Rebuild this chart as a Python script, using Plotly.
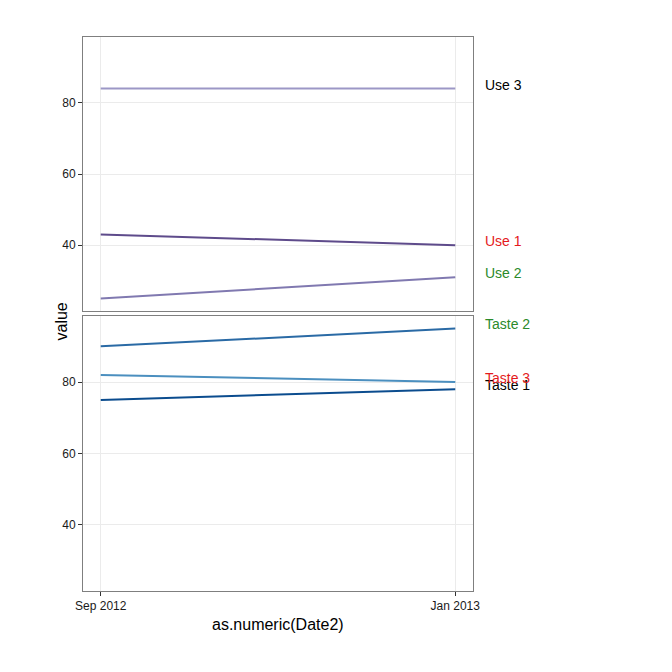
import plotly.graph_objects as go
from datetime import datetime, timedelta

dates = ["2012-09-01", "2013-01-01"]
use_names = ["Use 1", "Use 2", "Use 3"]
use_values = [[43, 40], [25, 31], [84, 84]]
use_colors = ["#5e4b8b", "#8079b0", "#9c97c6"]
use_label_colors = ["#e41a1c", "#2b8a2b", "#000000"]

taste_names = ["Taste 1", "Taste 2", "Taste 3"]
taste_values = [[75, 78], [90, 95], [82, 80]]
taste_colors = ["#0b4c8e", "#2a6aa5", "#4b8fbf"]
taste_label_colors = ["#000000", "#2b8a2b", "#e41a1c"]

x_ticks = ["2012-09-01", "2013-01-01"]
x_ticktext = ["Sep 2012", "Jan 2013"]
y_ticks = [40, 60, 80]

d0 = datetime.fromisoformat(dates[0])
d1 = datetime.fromisoformat(dates[-1])
pad = (d1 - d0) * 0.05
xr = [(d0 - pad).isoformat(), (d1 + pad).isoformat()]
yr = [25 - 3.5, 95 + 3.5]

fig = go.Figure()
ann = []
for names, vals, cols, lcols, ax in [
    (use_names, use_values, use_colors, use_label_colors, ("x", "y")),
    (taste_names, taste_values, taste_colors, taste_label_colors, ("x2", "y2")),
]:
    for n, v, c, lc in zip(names, vals, cols, lcols):
        fig.add_trace(go.Scatter(x=dates, y=v, mode="lines", name=n,
                                 line=dict(color=c, width=2),
                                 xaxis=ax[0], yaxis=ax[1], showlegend=False))
        ann.append(dict(x=dates[-1], y=v[-1], xref=ax[0], yref=ax[1], text=n,
                        showarrow=False, xanchor="left", yanchor="middle",
                        xshift=28, yshift=4,
                        font=dict(color=lc, size=14, family="Liberation Sans")))

axis_common = dict(showline=True, linecolor="#7f7f7f", linewidth=1, mirror=True,
                   showgrid=True, gridcolor="#ebebeb", gridwidth=1, zeroline=False,
                   ticklen=4, tickcolor="#333333",
                   tickfont=dict(size=12, color="#1a1a1a", family="Liberation Sans"))

fig.update_layout(
    width=672, height=672,
    margin=dict(l=83, r=199, t=37, b=81),
    paper_bgcolor="white", plot_bgcolor="white",
    xaxis=dict(domain=[0, 1], anchor="y", range=xr, type="date",
               tickvals=x_ticks, ticktext=x_ticktext, showticklabels=False,
               ticks="", **axis_common),
    yaxis=dict(domain=[0.5054, 1], anchor="x", range=yr, tickvals=y_ticks,
               ticks="outside", **axis_common),
    xaxis2=dict(domain=[0, 1], anchor="y2", range=xr, type="date",
                tickvals=x_ticks, ticktext=x_ticktext, ticks="outside", **axis_common),
    yaxis2=dict(domain=[0, 0.4964], anchor="x2", range=yr, tickvals=y_ticks,
                ticks="outside", **axis_common),
    annotations=ann + [
        dict(text="value", x=0, y=0.5, xref="paper", yref="paper", showarrow=False,
             textangle=-90, font=dict(size=16, color="#000000", family="Liberation Sans")),
        dict(text="as.numeric(Date2)", x=0.5, y=0, xref="paper", yref="paper",
             showarrow=False, yanchor="middle",
             font=dict(size=16, color="#000000", family="Liberation Sans")),
    ],
)
W, H = 672 - 83 - 199, 672 - 37 - 81
fig.layout.annotations[-2].x = (50 - 83) / W
fig.layout.annotations[-2].y = (591 - 322) / H
fig.layout.annotations[-1].y = (591 - 624) / H

fig.write_html("out.html")
